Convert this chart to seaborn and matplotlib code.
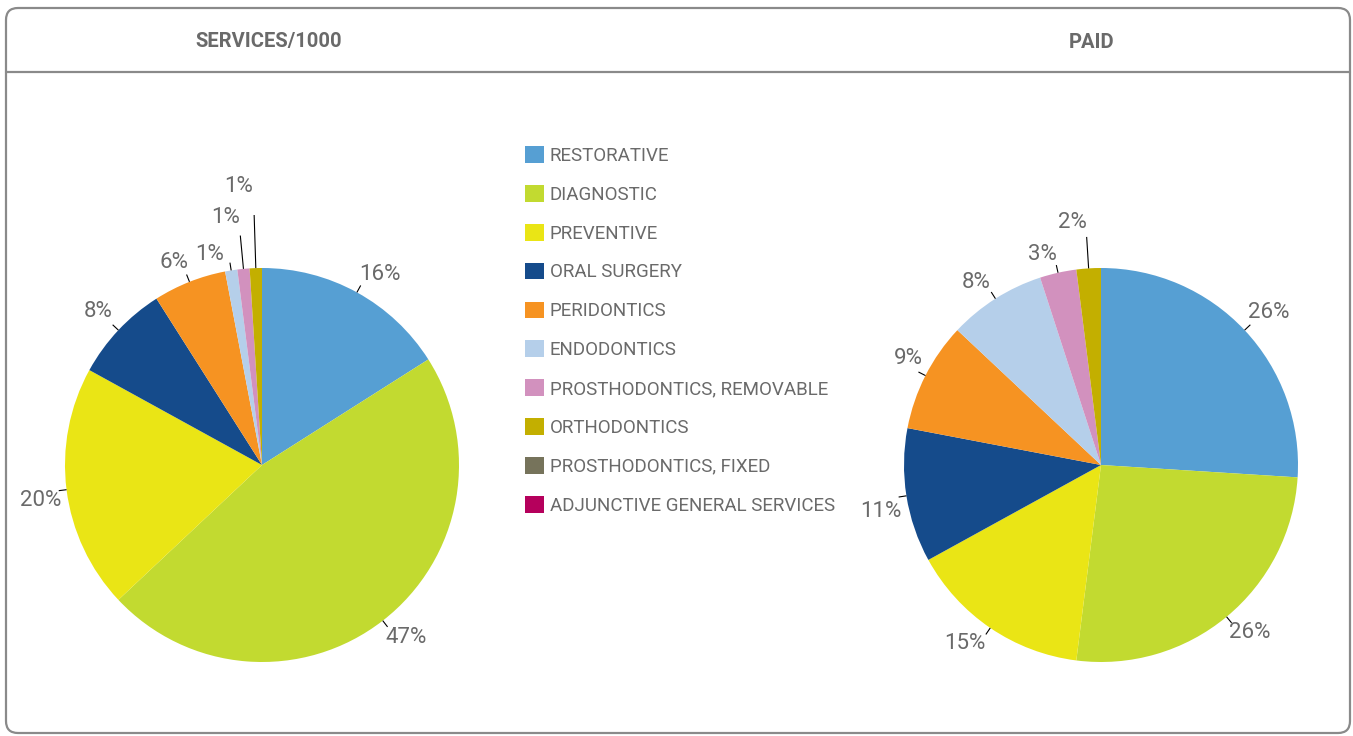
import numpy as np
import matplotlib
matplotlib.use("Agg")
import matplotlib.pyplot as plt
from matplotlib.patches import FancyBboxPatch, Patch
import seaborn as sns

# ---- data -------------------------------------------------------------
categories = [
    "RESTORATIVE", "DIAGNOSTIC", "PREVENTIVE", "ORAL SURGERY", "PERIDONTICS",
    "ENDODONTICS", "PROSTHODONTICS, REMOVABLE", "ORTHODONTICS",
    "PROSTHODONTICS, FIXED", "ADJUNCTIVE GENERAL SERVICES",
]
services_share = [16, 47, 20, 8, 6, 1, 1, 1, 0, 0]
paid_share = [26, 26, 15, 11, 9, 8, 3, 2, 0, 0]
panel_titles = ["SERVICES/1000", "PAID"]

colors_hex = ["#569fd3", "#c2da30", "#eae515", "#154b8b", "#f69322",
              "#b5cfea", "#d291be", "#c3af00", "#76735b", "#b5005c"]

# ---- styling ----------------------------------------------------------
sns.set_theme(style="white")
plt.rcParams["font.family"] = ["Roboto", "DejaVu Sans"]
palette = sns.color_palette(colors_hex)
TEXT = "#6a6a6a"
FRAME = "#8a8a8a"

W, H = 1353, 736
fig = plt.figure(figsize=(W / 100, H / 100), dpi=100)

# frame + header drawn in pixel space
bg = fig.add_axes([0, 0, 1, 1], zorder=0)
bg.set_xlim(0, W)
bg.set_ylim(H, 0)
bg.axis("off")
bg.add_patch(FancyBboxPatch((6, 8), 1344, 725,
                            boxstyle="round,pad=0,rounding_size=12",
                            fc="white", ec=FRAME, lw=1.6))
bg.plot([6, 1350], [72, 72], color=FRAME, lw=1.6)
bg.text(269, 42, panel_titles[0], ha="center", va="center",
        fontsize=14.5, fontweight="bold", color=TEXT)
bg.text(1092, 42, panel_titles[1], ha="center", va="center",
        fontsize=14.5, fontweight="bold", color=TEXT)

R_PX = 197   # pie radius in pixels
HALF = 250   # half-size of each pie axes in pixels


def pie_axes(cx, cy):
    ax = fig.add_axes([(cx - HALF) / W, (H - cy - HALF) / H,
                       2 * HALF / W, 2 * HALF / H], zorder=1)
    return ax


# label layout per slice: (text radius, angle shift in degrees, leader end radius)
services_layout = [(1.14, -3, 1.04), (1.14, 2, 1.04), (1.14, 2, 1.04),
                   (1.14, 0, 1.04), (1.12, 2, 1.04), (1.10, 5, 1.04),
                   (1.27, 3, 1.17), (1.42, 3, 1.35)]
paid_layout = [(1.15, -1, 1.04), (1.14, 2, 1.04), (1.14, -3, 1.04),
               (1.14, 3, 1.04), (1.12, -2, 1.04), (1.12, 2, 1.04),
               (1.11, 3, 1.04), (1.24, 3, 1.16)]


def draw_pie(ax, values, layout):
    vals = [v for v in values if v > 0]
    cols = [palette[i] for i, v in enumerate(values) if v > 0]
    wedges, _ = ax.pie(vals, colors=cols, startangle=90, counterclock=False,
                       radius=1.0, wedgeprops=dict(linewidth=0))
    lim = HALF / R_PX
    ax.set_xlim(-lim, lim)
    ax.set_ylim(-lim, lim)
    ax.set_aspect("equal")
    ax.axis("off")
    for w, v, (rt, shift, rl) in zip(wedges, vals, layout):
        mid = np.deg2rad((w.theta1 + w.theta2) / 2)
        ax.plot([1.0 * np.cos(mid), rl * np.cos(mid)],
                [1.0 * np.sin(mid), rl * np.sin(mid)],
                color="black", lw=0.8, solid_capstyle="butt")
        ta = mid + np.deg2rad(shift)
        ax.text(rt * np.cos(ta), rt * np.sin(ta), f"{v}%",
                ha="center", va="center", fontsize=16, fontweight="normal",
                color=TEXT, clip_on=False)


draw_pie(pie_axes(262, 465), services_share, services_layout)
draw_pie(pie_axes(1101, 465), paid_share, paid_layout)

handles = [Patch(facecolor=palette[i], edgecolor="none", label=c)
           for i, c in enumerate(categories)]
leg = fig.legend(handles=handles, loc="upper left",
                 bbox_to_anchor=(525 / W, 1 - 146 / H), frameon=False,
                 borderpad=0, borderaxespad=0, fontsize=13.5,
                 handlelength=1.0, handleheight=1.0, handletextpad=0.32,
                 labelspacing=1.07)
for t in leg.get_texts():
    t.set_color(TEXT)

fig.savefig("out.png", dpi=100, facecolor="white")
